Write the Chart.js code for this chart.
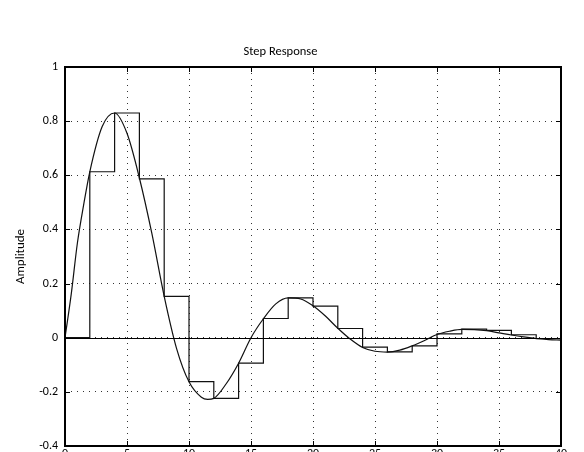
<!DOCTYPE html>
<html>
<head>
<meta charset="utf-8">
<script src="https://cdn.jsdelivr.net/npm/chart.js@4/dist/chart.umd.min.js"></script>
<style>
  html, body { margin: 0; padding: 0; background: #fff; overflow: hidden; }
  #quadro { width: 584px; height: 452px; overflow: hidden; }
</style>
</head>
<body>
<div id="quadro"><canvas id="grafico" width="584" height="478"></canvas></div>
<script>
// resposta continua
const tempoCurva = [0, 0.5, 1, 1.5, 2, 3, 4, 5, 6, 7, 8, 9, 10, 11, 11.5, 12, 13, 14, 15, 16, 17, 18, 19, 20,
  21, 22, 23, 24, 25, 26, 27, 28, 29, 30, 31, 32, 33, 34, 35, 36, 37, 38, 39, 40];
const amplitudeCurva = [0, 0.16, 0.35, 0.49, 0.613, 0.78, 0.83, 0.755, 0.59, 0.386, 0.153, -0.04, -0.163, -0.22, -0.228, -0.224,
  -0.17, -0.094, 0.0, 0.07, 0.125, 0.147, 0.143, 0.118, 0.08, 0.035, -0.005, -0.036, -0.05, -0.053, -0.046, -0.03,
  -0.01, 0.012, 0.024, 0.031, 0.03, 0.026, 0.018, 0.01, 0.003, -0.003, -0.007, -0.009];

// resposta discreta (amostras a cada 2 s)
const tempoDegrau = [0, 2, 4, 6, 8, 10, 12, 14, 16, 18, 20, 22, 24, 26, 28, 30, 32, 34, 36, 38, 40];
const amplitudeDegrau = [0, 0.613, 0.83, 0.587, 0.153, -0.162, -0.224, -0.094, 0.071, 0.147, 0.117, 0.034,
  -0.035, -0.052, -0.03, 0.014, 0.032, 0.027, 0.011, -0.003, -0.007];

const rotulosY = ['-0.4', '-0.2', '0', '0.2', '0.4', '0.6', '0.8', '1'];
const titulo = 'Step Response';
const tituloY = 'Amplitude';

const fonte = 'Carlito, Lato, "Open Sans", sans-serif';

// moldura, marcas internas e linha do zero
const moldura = {
  id: 'moldura',
  afterDraw(chart) {
    const ctx = chart.ctx;
    const area = chart.chartArea;
    const sx = chart.scales.x;
    const sy = chart.scales.y;
    ctx.save();
    ctx.strokeStyle = '#000';
    ctx.lineWidth = 1;
    const y0 = Math.round(sy.getPixelForValue(0)) + 0.5;
    ctx.beginPath();
    ctx.moveTo(area.left, y0);
    ctx.lineTo(area.right, y0);
    ctx.stroke();
    ctx.beginPath();
    sx.ticks.forEach(t => {
      const px = Math.round(sx.getPixelForValue(t.value)) + 0.5;
      ctx.moveTo(px, area.bottom);
      ctx.lineTo(px, area.bottom - 5);
      ctx.moveTo(px, area.top);
      ctx.lineTo(px, area.top + 5);
    });
    sy.ticks.forEach(t => {
      const py = Math.round(sy.getPixelForValue(t.value)) + 0.5;
      ctx.moveTo(area.left, py);
      ctx.lineTo(area.left + 5, py);
      ctx.moveTo(area.right, py);
      ctx.lineTo(area.right - 5, py);
    });
    ctx.stroke();
    ctx.lineWidth = 2;
    ctx.strokeRect(area.left, area.top, area.right - area.left, area.bottom - area.top);
    ctx.restore();
  }
};

new Chart(document.getElementById('grafico'), {
  type: 'scatter',
  data: {
    datasets: [
      {
        label: 'discreta',
        data: tempoDegrau.map((t, i) => ({ x: t, y: amplitudeDegrau[i] })),
        showLine: true,
        stepped: 'before',
        borderColor: '#111',
        borderWidth: 1.2,
        pointRadius: 0
      },
      {
        label: 'continua',
        data: tempoCurva.map((t, i) => ({ x: t, y: amplitudeCurva[i] })),
        showLine: true,
        cubicInterpolationMode: 'monotone',
        borderColor: '#111',
        borderWidth: 1.2,
        pointRadius: 0
      }
    ]
  },
  options: {
    responsive: false,
    animation: false,
    devicePixelRatio: 1,
    layout: { padding: { left: 0, right: 23, top: 0, bottom: 0 } },
    plugins: {
      legend: { display: false },
      tooltip: { enabled: false },
      title: {
        display: true,
        text: titulo,
        color: '#000',
        font: { family: fonte, size: 12.5, weight: 'normal' },
        padding: { top: 44, bottom: 8 }
      }
    },
    scales: {
      x: {
        type: 'linear',
        min: 0,
        max: 40,
        ticks: { stepSize: 5, color: '#000', padding: 1, font: { family: fonte, size: 12 }, maxRotation: 0 },
        grid: { color: '#333', drawTicks: false, lineWidth: 1 },
        border: { display: false, dash: [1, 5] },
        afterFit: s => { s.height = 32; }
      },
      y: {
        type: 'linear',
        min: -0.4,
        max: 1,
        ticks: {
          stepSize: 0.2,
          color: '#000',
          padding: 7,
          font: { family: fonte, size: 12 },
          callback: (v, i) => rotulosY[i]
        },
        grid: { color: '#333', drawTicks: false, lineWidth: 1 },
        border: { display: false, dash: [1, 5] },
        title: {
          display: true,
          text: tituloY,
          color: '#000',
          font: { family: fonte, size: 13 },
          padding: { top: 13, bottom: 0 }
        },
        afterFit: s => { s.width = 65; }
      }
    }
  },
  plugins: [moldura]
});
</script>
</body>
</html>
